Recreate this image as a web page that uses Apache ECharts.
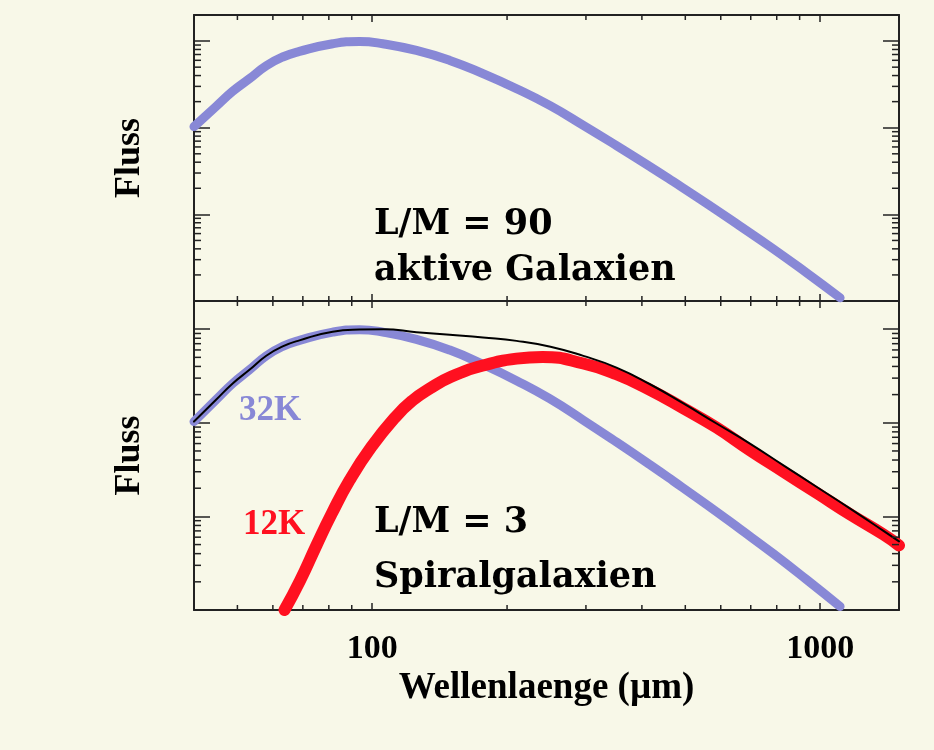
<!DOCTYPE html>
<html><head><meta charset="utf-8">
<script src="https://cdn.jsdelivr.net/npm/echarts@6/dist/echarts.min.js"></script>
<style>html,body{margin:0;padding:0;background:#f8f8e8}#chart{width:934px;height:750px}</style>
</head><body><div id="chart"></div>
<script>
// ---- data ----
const wavelength32K = [40, 44.8, 48.8, 53.2, 58, 63.1, 68.8, 81.6, 93.7, 105.6, 125.5, 149, 176.7, 210, 249, 296, 351, 417, 470, 558, 662, 786, 933, 1108];
const flux32K      = [10.3, 17.6, 26.3, 36.8, 51.9, 65.5, 75.9, 93.1, 98.9, 93.1, 77.9, 59.8, 42.1, 28.2, 18.1, 10.66, 6.22, 3.56, 2.39, 1.335, 0.735, 0.400, 0.211, 0.109];

const wavelength12K = [63.7, 69, 75.2, 81.2, 89, 99.5, 113, 123, 134, 150, 177, 210, 240, 296, 351, 417, 495, 587, 697, 828, 983, 1167, 1385, 1500];
const flux12K      = [0.1, 0.206, 0.5, 1.07, 2.43, 5.5, 11.7, 17.3, 23, 31, 41, 48.5, 50.5, 43, 33, 22.5, 14.3, 8.9, 5.1, 3.0, 1.78, 1.05, 0.64, 0.49];

const wavelengthSum = [40, 44.8, 48.8, 53.2, 58, 63.1, 68.8, 81.6, 93.7, 106, 125.5, 149, 176.7, 210, 250, 296, 351, 417, 495, 587, 697, 828, 983, 1167, 1385, 1500];
const fluxSum      = [10.3, 17.6, 26.3, 36.8, 52, 65.5, 76, 94, 99, 100, 93, 87, 81.3, 75, 65, 51.8, 38.9, 25.8, 16.1, 9.83, 6.0, 3.51, 2.06, 1.21, 0.70, 0.54];

const xMajorLabels = [100, 1000];
const xMinorTickValues = [50, 60, 70, 80, 90, 200, 300, 400, 500, 600, 700, 800, 900];
const yMinorTickValues = [0.2,0.3,0.4,0.5,0.6,0.7,0.8,0.9, 2,3,4,5,6,7,8,9, 20,30,40,50,60,70,80,90];

const X_MIN = 40, X_MAX = 1500, Y_MIN = 0.1, Y_MAX = 200;

// ---- styles ----
const BG = '#f8f8e8';
const BLUE = '#8888d6';
const RED = '#ff1020';
const FRAME = '#222';

const pairs = (xs, ys) => xs.map((x, i) => [x, ys[i]]);

function xAxisDef(gridIndex, position, withLabel) {
  const a = {
    type: 'log', logBase: 10, min: X_MIN, max: X_MAX, gridIndex, position,
    axisLine: { show: true, onZero: false, lineStyle: { color: FRAME, width: 2 } },
    axisTick: { show: true, inside: true, length: 7, lineStyle: { color: FRAME, width: 1.5 } },
    axisLabel: { show: false },
    splitLine: { show: false }, minorTick: { show: false }
  };
  if (withLabel) {
    a.axisLabel = {
      show: true, margin: 22, color: '#000',
      fontFamily: 'Liberation Serif', fontWeight: 'bold', fontSize: 34,
      formatter: v => (xMajorLabels.some(m => Math.abs(m - v) < 1e-6) ? String(Math.round(v)) : '')
    };
    a.name = 'Wellenlaenge (\u00b5m)';
    a.nameLocation = 'middle';
    a.nameGap = 60;
    a.nameTextStyle = { color: '#000', fontFamily: 'Liberation Serif', fontWeight: 'bold', fontSize: 37 };
  }
  return a;
}
function yAxisDef(gridIndex, position, withName) {
  const a = {
    type: 'log', logBase: 10, min: Y_MIN, max: Y_MAX, gridIndex, position,
    axisLine: { show: true, onZero: false, lineStyle: { color: FRAME, width: 2 } },
    axisTick: { show: true, inside: true, length: 16, lineStyle: { color: FRAME, width: 1.5 } },
    axisLabel: { show: false },
    splitLine: { show: false }, minorTick: { show: false }
  };
  if (withName) {
    a.name = 'Fluss';
    a.nameLocation = 'middle';
    a.nameRotate = 90;
    a.nameGap = 46;
    a.nameTextStyle = { color: '#000', fontFamily: 'Liberation Serif', fontWeight: 'bold', fontSize: 36 };
  }
  return a;
}

function minorTickRenderer(params, api) {
  if (params.dataIndex !== 0) return;
  const cs = params.coordSys;
  const children = [];
  const st = { stroke: FRAME, lineWidth: 1.5 };
  const xLen = 5, yLen = 7;
  xMinorTickValues.forEach(v => {
    const x = api.coord([v, Y_MIN])[0];
    children.push({ type: 'line', shape: { x1: x, y1: cs.y + cs.height, x2: x, y2: cs.y + cs.height - xLen }, style: st });
    children.push({ type: 'line', shape: { x1: x, y1: cs.y, x2: x, y2: cs.y + xLen }, style: st });
  });
  yMinorTickValues.forEach(v => {
    const y = api.coord([X_MIN, v])[1];
    children.push({ type: 'line', shape: { x1: cs.x, y1: y, x2: cs.x + yLen, y2: y }, style: st });
    children.push({ type: 'line', shape: { x1: cs.x + cs.width, y1: y, x2: cs.x + cs.width - yLen, y2: y }, style: st });
  });
  return { type: 'group', children };
}

const lineSeries = (name, xi, yi, data, color, width, z) => ({
  name, type: 'line', xAxisIndex: xi, yAxisIndex: yi, data,
  showSymbol: false, symbol: 'none', smooth: 0.5, clip: true, z,
  lineStyle: { color, width, cap: 'round', join: 'round' }
});

const annot = (text, x, y, font, fill) => ({
  type: 'text', x, y, silent: true, z: 100,
  style: { text, font, fill, textAlign: 'left', textVerticalAlign: 'middle', verticalAlign: 'middle' }
});
const F_ANN = 'bold 35px "DejaVu Serif"';
const F_K = 'bold 35px "Liberation Serif"';

const chart = echarts.init(document.getElementById('chart'), null, { renderer: 'canvas' });
chart.setOption({
  backgroundColor: BG,
  animation: false,
  grid: [
    { left: 194, top: 15, width: 705, height: 286 },
    { left: 194, top: 301, width: 705, height: 309 }
  ],
  xAxis: [
    xAxisDef(0, 'bottom', false),
    xAxisDef(0, 'top', false),
    xAxisDef(1, 'bottom', true),
    xAxisDef(1, 'top', false)
  ],
  yAxis: [
    yAxisDef(0, 'left', true),
    yAxisDef(0, 'right', false),
    yAxisDef(1, 'left', true),
    yAxisDef(1, 'right', false)
  ],
  series: [
    lineSeries('32K top', 0, 0, pairs(wavelength32K, flux32K), BLUE, 9, 2),
    lineSeries('32K', 2, 2, pairs(wavelength32K, flux32K), BLUE, 9, 2),
    lineSeries('12K', 2, 2, pairs(wavelength12K, flux12K), RED, 12, 3),
    lineSeries('Summe', 2, 2, pairs(wavelengthSum, fluxSum), '#000', 2, 4),
    { type: 'custom', xAxisIndex: 0, yAxisIndex: 0, data: [[100, 1]], renderItem: minorTickRenderer, silent: true, z: 5 },
    { type: 'custom', xAxisIndex: 2, yAxisIndex: 2, data: [[100, 1]], renderItem: minorTickRenderer, silent: true, z: 5 }
  ],
  graphic: [
    annot('L/M = 90', 374, 225, F_ANN, '#000'),
    annot('aktive Galaxien', 374, 271, F_ANN, '#000'),
    annot('L/M = 3', 374, 523, F_ANN, '#000'),
    annot('Spiralgalaxien', 374, 578, F_ANN, '#000'),
    annot('32K', 239, 411, F_K, BLUE),
    annot('12K', 243, 525, F_K, RED)
  ]
});
</script></body></html>
